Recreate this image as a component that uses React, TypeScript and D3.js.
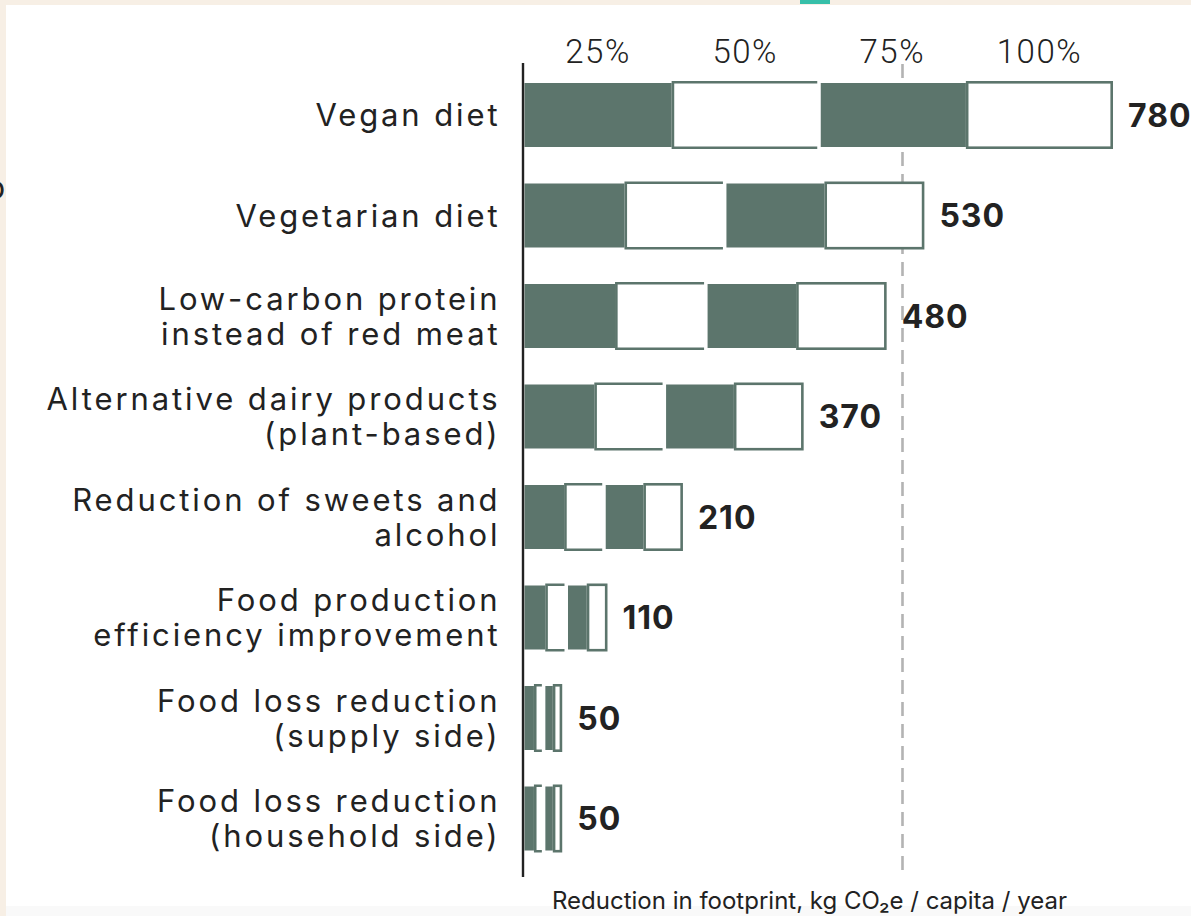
import React from "react";
import * as d3 from "d3";

const categories: string[][] = [
  ["Vegan diet"],
  ["Vegetarian diet"],
  ["Low-carbon protein", "instead of red meat"],
  ["Alternative dairy products", "(plant-based)"],
  ["Reduction of sweets and", "alcohol"],
  ["Food production", "efficiency improvement"],
  ["Food loss reduction", "(supply side)"],
  ["Food loss reduction", "(household side)"],
];
const values: number[] = [780, 530, 480, 370, 210, 110, 50, 50];
const quarterLabels: string[] = ["25%", "50%", "75%", "100%"];
const referenceValue = 501;
const axisTitle = "Reduction in footprint, kg CO₂e / capita / year";

const W = 1191;
const H = 916;
const GREEN = "#5c756c";
const TEXT = "#222222";

export default function App() {
  const x = d3.scaleLinear().domain([0, 780]).range([524.5, 1113]);
  const keys = categories.map((_, i) => String(i));
  const y = d3.scaleBand<string>().domain(keys).range([64.75, 868.75]).padding(0);
  const fillHalf = 32;
  const boxHalf = 34;
  const sw = 2.6;

  return (
    <svg width={W} height={H} style={{ display: "block", position: "absolute", left: 0, top: 0 }}>
      <rect x={0} y={0} width={W} height={H} fill="#f7efe5" />
      <rect x={6} y={5} width={W - 6} height={H - 5} fill="#ffffff" />
      <rect x={6} y={906} width={W - 6} height={10} fill="#f9f9f9" />
      <rect x={800} y={0} width={30} height={4} fill="#37bfa9" />
      <text x={-14} y={199} fontFamily="Inter" fontSize={32} fill={TEXT}>o</text>

      {/* reference dashed line */}
      <line
        x1={x(referenceValue)}
        x2={x(referenceValue)}
        y1={64}
        y2={877}
        stroke="#b3b3b3"
        strokeWidth={2.6}
        strokeDasharray="14 8"
      />

      {/* quarter labels */}
      {quarterLabels.map((t, i) => {
        const cx = (x((values[0] * i) / 4) + x((values[0] * (i + 1)) / 4)) / 2;
        return (
          <text
            key={t}
            x={cx}
            y={63}
            textAnchor="middle"
            fontFamily="Roboto"
            fontWeight={300}
            fontSize={33}
            letterSpacing={1.5}
            fill={TEXT}
          >
            {t}
          </text>
        );
      })}

      {values.map((v, i) => {
        const cy = (y(String(i)) as number) + y.bandwidth() / 2;
        const q = [0, 1, 2, 3, 4].map((k) => x((v * k) / 4));
        const top = cy - boxHalf + sw / 2;
        const bot = cy + boxHalf - sw / 2;
        const bracket = `M${q[2] - 1.5},${top} L${q[1] + sw / 2},${top} L${q[1] + sw / 2},${bot} L${q[2] - 1.5},${bot}`;
        return (
          <g key={i}>
            <rect x={q[1]} y={top} width={Math.max(0, q[2] - 1.5 - q[1])} height={bot - top} fill="#fff" />
            <path d={bracket} fill="none" stroke={GREEN} strokeWidth={sw} />
            <rect x={q[0]} y={cy - fillHalf} width={q[1] - q[0]} height={fillHalf * 2} fill={GREEN} />
            <rect x={q[2] + 2} y={cy - fillHalf} width={q[3] - q[2] - 2} height={fillHalf * 2} fill={GREEN} />
            <rect
              x={q[3] + sw / 2}
              y={top}
              width={q[4] - q[3] - sw}
              height={bot - top}
              fill="#fff"
              stroke={GREEN}
              strokeWidth={sw}
            />
            <text
              x={q[4] + 15}
              y={cy}
              dy="0.36em"
              fontFamily="Inter"
              fontWeight={700}
              fontSize={32}
              letterSpacing={1}
              fill={TEXT}
            >
              {v}
            </text>
            {categories[i].map((line, j) => {
              const n = categories[i].length;
              const ly = cy + (j - (n - 1) / 2) * 35;
              return (
                <text
                  key={j}
                  x={500.5}
                  y={ly}
                  dy="0.36em"
                  textAnchor="end"
                  fontFamily="Inter"
                  fontSize={31}
                  letterSpacing={2.9}
                  fill={TEXT}
                >
                  {line}
                </text>
              );
            })}
          </g>
        );
      })}

      {/* axis line */}
      <line x1={523} x2={523} y1={63} y2={877} stroke={TEXT} strokeWidth={2.4} />

      <text x={552} y={909} fontFamily="Inter" fontSize={24} fill={TEXT}>
        {axisTitle}
      </text>
    </svg>
  );
}
